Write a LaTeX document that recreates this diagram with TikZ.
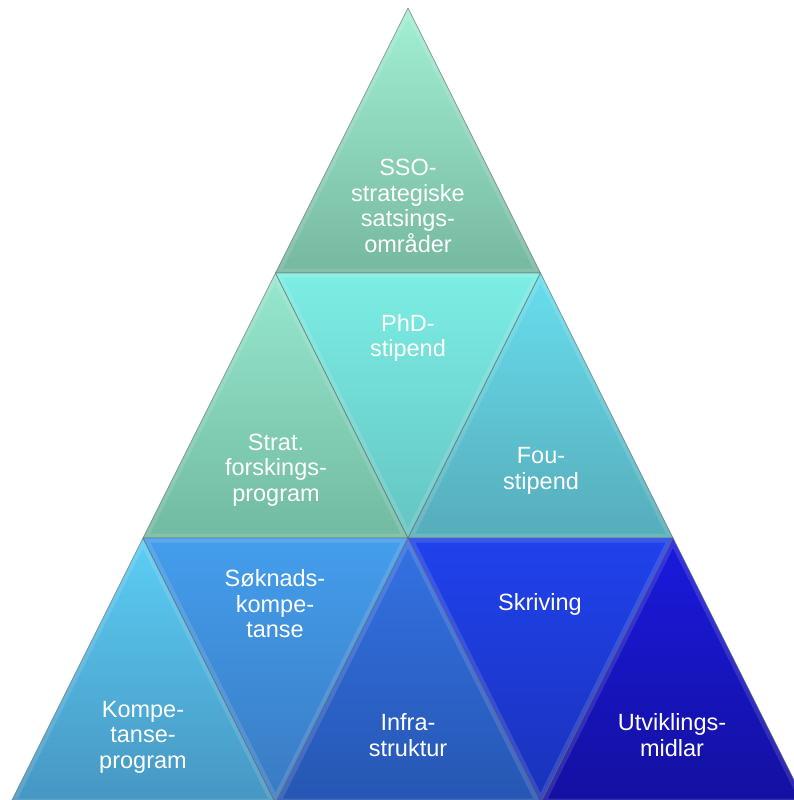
\documentclass[tikz,border=0pt]{standalone}
\usepackage{fontspec}
\setmainfont{Liberation Sans}
\definecolor{ssoT}{RGB}{162,240,212}\definecolor{ssoB}{RGB}{118,184,160}
\definecolor{strT}{RGB}{150,232,206}\definecolor{strB}{RGB}{114,186,162}
\definecolor{phdT}{RGB}{124,238,228}\definecolor{phdB}{RGB}{100,196,194}
\definecolor{fouT}{RGB}{104,222,238}\definecolor{fouB}{RGB}{86,172,186}
\definecolor{kmpT}{RGB}{92,206,244}\definecolor{kmpB}{RGB}{70,150,194}
\definecolor{sokT}{RGB}{68,158,236}\definecolor{sokB}{RGB}{58,122,194}
\definecolor{infT}{RGB}{52,114,228}\definecolor{infB}{RGB}{38,86,178}
\definecolor{skrT}{RGB}{32,66,236}\definecolor{skrB}{RGB}{26,50,186}
\definecolor{utvT}{RGB}{26,26,222}\definecolor{utvB}{RGB}{20,16,160}
\tikzset{
  lbl/.style={text=white, align=center, inner sep=0pt,
    font=\fontsize{23.5}{25.5}\selectfont},
  edge/.style={draw=black!60, draw opacity=0.6, line width=0.8pt, line join=round}
}
% #1,#2,#3 corners, #4 top colour, #5 bottom colour
\newcommand\pyrtri[5]{%
  \shade[top color=#4, bottom color=#5] #1 -- #2 -- #3 -- cycle;
  \begin{scope}
    \clip #1 -- #2 -- #3 -- cycle;
    \draw[white, opacity=0.12, line width=9pt, line join=miter] #1 -- #2 -- #3 -- cycle;
  \end{scope}
  \draw[edge] #1 -- #2 -- #3 -- cycle;
}
\begin{document}
\begin{tikzpicture}[x=1pt,y=-1pt]
\useasboundingbox (0,0) rectangle (794,800);
\clip (0,0) rectangle (794,800);
\coordinate (A)  at (408,8);
\coordinate (B1) at (275.5,273);
\coordinate (B2) at (540.5,273);
\coordinate (C1) at (143,538);
\coordinate (C2) at (408,538);
\coordinate (C3) at (673,538);
\coordinate (D1) at (10.5,803);
\coordinate (D2) at (275.5,803);
\coordinate (D3) at (540.5,803);
\coordinate (D4) at (805.5,803);
% row 1
\pyrtri{(A)}{(B1)}{(B2)}{ssoT}{ssoB}
% row 2
\pyrtri{(B1)}{(C1)}{(C2)}{strT}{strB}
\pyrtri{(B1)}{(B2)}{(C2)}{phdT}{phdB}
\pyrtri{(B2)}{(C2)}{(C3)}{fouT}{fouB}
% row 3
\pyrtri{(C1)}{(D1)}{(D2)}{kmpT}{kmpB}
\pyrtri{(C1)}{(C2)}{(D2)}{sokT}{sokB}
\pyrtri{(C2)}{(D2)}{(D3)}{infT}{infB}
\pyrtri{(C2)}{(C3)}{(D3)}{skrT}{skrB}
\pyrtri{(C3)}{(D3)}{(D4)}{utvT}{utvB}
% labels
\node[lbl] (sso)  at (408,206) {SSO-\\strategiske\\satsings-\\områder};
\node[lbl] (phd)  at (408,338) {PhD-\\stipend};
\node[lbl] (strat) at (276,470) {Strat.\\forskings-\\program};
\node[lbl] (fou)  at (541,471) {Fou-\\stipend};
\node[lbl] (sok)  at (275,604) {Søknads-\\kompe-\\tanse};
\node[lbl] (komp) at (143,737) {Kompe-\\tanse-\\program};
\node[lbl] (infra) at (408,735) {Infra-\\struktur};
\node[lbl] (skriv) at (540,604) {Skriving};
\node[lbl] (utv)  at (672,735) {Utviklings-\\midlar};
\end{tikzpicture}
\end{document}
